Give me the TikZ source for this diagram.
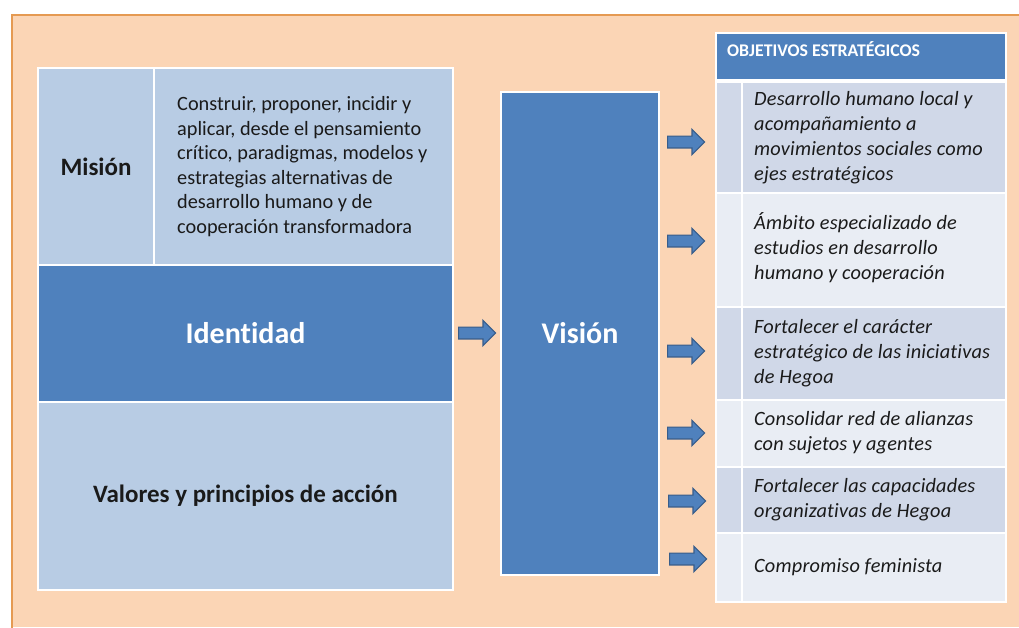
\documentclass[tikz,border=0pt]{standalone}
\usepackage{fontspec}
\setmainfont{Carlito}[Ligatures=NoCommon]
\usetikzlibrary{shapes.arrows}
\definecolor{peach}{HTML}{FBD5B5}
\definecolor{frameor}{HTML}{E59A52}
\definecolor{blueA}{HTML}{4F81BD}
\definecolor{blueL}{HTML}{B8CCE4}
\definecolor{bandD}{HTML}{D0D8E8}
\definecolor{bandL}{HTML}{E9EDF4}
\definecolor{arrowline}{HTML}{385D8A}
\definecolor{txt}{HTML}{1A1A1A}
\begin{document}
\begin{tikzpicture}[x=1pt,y=-1pt,
  cell/.style={draw=white, line width=1.3pt, anchor=north west, inner sep=0pt, outer sep=0pt, text=txt},
  bigbold/.style={font=\fontsize{25}{30}\selectfont\bfseries},
  hugebold/.style={font=\fontsize{30}{36}\selectfont\bfseries, text=white},
  objtext/.style={anchor=west, align=left, inner sep=0pt, text=txt, font=\addfontfeatures{LetterSpace=1}\fontsize{20.3}{25}\selectfont\itshape},
  blockarrow/.style={single arrow, draw=arrowline, fill=blueA, line width=1.2pt, anchor=west,
    minimum height=37pt, minimum width=24pt, inner sep=5.3pt, single arrow head extend=6.7pt}
]
\useasboundingbox (0,0) rectangle (1019,627);
\fill[white] (0,0) rectangle (1019,627);
\fill[peach] (12,15) rectangle (1019,627);
\draw[frameor, line width=2.5pt] (12,640) -- (12,15) -- (1030,15);

% left table
\node[cell, fill=blueL, minimum width=116pt, minimum height=197pt, bigbold] (mlab) at (38,68) {Misión};
\node[cell, fill=blueL, minimum width=299pt, minimum height=197pt] (mtxt) at (154,68) {};
\node[anchor=west, align=left, inner sep=0pt, text=txt, font=\fontsize{20.3}{24.6}\selectfont] (mision) at (177,166.5)
  {Construir, proponer, incidir y\\aplicar, desde el pensamiento\\crítico, paradigmas, modelos y\\estrategias alternativas de\\desarrollo humano y de\\cooperación transformadora};
\node[cell, fill=blueA, minimum width=415pt, minimum height=137pt, hugebold] (ident) at (38,265) {Identidad};
\node[cell, fill=blueL, minimum width=415pt, minimum height=188pt, bigbold] (valores) at (38,402) {Valores y principios de acción};

% vision
\node[cell, fill=blueA, minimum width=158pt, minimum height=483pt, hugebold] (vision) at (501,92) {Visión};

% objectives table
\node[cell, fill=blueA, minimum width=290pt, minimum height=47pt] (head) at (716,33) {};
\node[anchor=west, inner sep=0pt, text=white, font=\fontsize{17.8}{20}\selectfont\bfseries] (headt) at (727,49.5) {OBJETIVOS ESTRATÉGICOS};

\node[cell, fill=bandD, minimum width=26pt, minimum height=111pt] (r1a) at (716,82) {};
\node[cell, fill=bandD, minimum width=264pt, minimum height=111pt] (r1) at (742,82) {};
\node[cell, fill=bandL, minimum width=26pt, minimum height=114pt] (r2a) at (716,193) {};
\node[cell, fill=bandL, minimum width=264pt, minimum height=114pt] (r2) at (742,193) {};
\node[cell, fill=bandD, minimum width=26pt, minimum height=93pt] (r3a) at (716,307) {};
\node[cell, fill=bandD, minimum width=264pt, minimum height=93pt] (r3) at (742,307) {};
\node[cell, fill=bandL, minimum width=26pt, minimum height=67pt] (r4a) at (716,400) {};
\node[cell, fill=bandL, minimum width=264pt, minimum height=67pt] (r4) at (742,400) {};
\node[cell, fill=bandD, minimum width=26pt, minimum height=66pt] (r5a) at (716,467) {};
\node[cell, fill=bandD, minimum width=264pt, minimum height=66pt] (r5) at (742,467) {};
\node[cell, fill=bandL, minimum width=26pt, minimum height=69pt] (r6a) at (716,533) {};
\node[cell, fill=bandL, minimum width=264pt, minimum height=69pt] (r6) at (742,533) {};

\node[objtext] (t1) at (754,138) {Desarrollo humano local y\\acompañamiento a\\movimientos sociales como\\ejes estratégicos};
\node[objtext] (t2) at (754,248) {Ámbito especializado de\\estudios en desarrollo\\humano y cooperación};
\node[objtext] (t3) at (754,353) {Fortalecer el carácter\\estratégico de las iniciativas\\de Hegoa};
\node[objtext] (t4) at (754,433) {Consolidar red de alianzas\\con sujetos y agentes};
\node[objtext] (t5) at (754,499.5) {Fortalecer las capacidades\\organizativas de Hegoa};
\node[objtext] (t6) at (754,567) {Compromiso feminista};

% arrows
\node[blockarrow] (am) at (458,333) {};
\node[blockarrow] (a1) at (667,142) {};
\node[blockarrow] (a2) at (667,241) {};
\node[blockarrow] (a3) at (667,351) {};
\node[blockarrow] (a4) at (667,433) {};
\node[blockarrow] (a5) at (668,501) {};
\node[blockarrow] (a6) at (669,559) {};
\end{tikzpicture}
\end{document}
